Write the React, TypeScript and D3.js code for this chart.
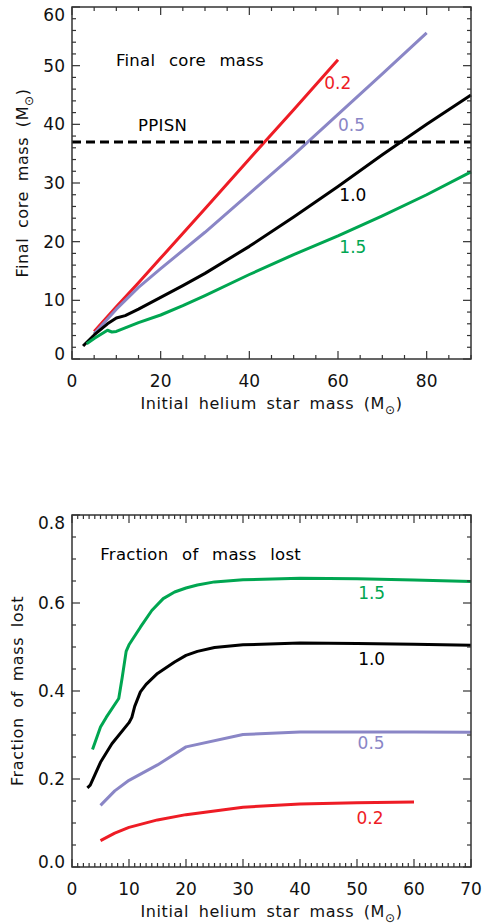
import React from "react";
import * as d3 from "d3";

const W = 487;
const H = 924;
const FONT = "DejaVu Sans, sans-serif";

// line colours for the four wind-efficiency factors
const factorNames = ["0.2", "0.5", "1.0", "1.5"];
const factorColors = ["#ee1c25", "#8a86c6", "#000000", "#00a651"];

// ---- top panel: final core mass (Msun) vs initial helium star mass
const core02 = [[5, 4.7], [10, 8.9], [15, 13.0], [20, 17.2], [30, 25.6], [40, 34.1], [50, 42.5], [60, 51.0]];
const core05 = [[5, 4.3], [10, 8.5], [15, 12.2], [20, 15.4], [30, 21.6], [40, 28.2], [50, 34.8], [60, 41.7], [70, 48.6], [80, 55.6]];
const core10 = [[2.5, 2.2], [3, 2.6], [5, 4.1], [8, 6.0], [10, 7.0], [12, 7.4], [15, 8.5], [20, 10.5], [25, 12.5], [30, 14.6], [40, 19.2], [50, 24.2], [60, 29.4], [70, 34.8], [80, 40.0], [90, 45.0]];
const core15 = [[3.3, 2.6], [5, 3.5], [8, 4.9], [9, 4.6], [10, 4.7], [12, 5.3], [15, 6.2], [20, 7.5], [25, 9.1], [30, 10.8], [40, 14.4], [50, 17.8], [60, 21.0], [70, 24.4], [80, 28.0], [90, 31.9]];
const ppisnMass = 37;
const coreXTicks = [0, 20, 40, 60, 80];
const coreYTicks = [0, 10, 20, 30, 40, 50, 60];
// label anchor points, data units
const coreLabelPos = [[56.9, 46.0], [60, 38.8], [60.3, 26.9], [60.3, 18.0]];

// ---- bottom panel: fraction of mass lost
const lost02 = [[5, 0.06], [7.5, 0.077], [10, 0.09], [15, 0.107], [20, 0.119], [30, 0.136], [40, 0.143], [50, 0.146], [60, 0.148]];
const lost05 = [[5, 0.14], [7.5, 0.173], [10, 0.197], [15, 0.232], [20, 0.273], [30, 0.301], [40, 0.307], [50, 0.307], [60, 0.307], [70, 0.306]];
const lost10 = [[2.7, 0.18], [3.2, 0.186], [5, 0.238], [7, 0.28], [10, 0.328], [10.5, 0.34], [11, 0.365], [12, 0.398], [13, 0.415], [15, 0.44], [18, 0.466], [20, 0.481], [22, 0.49], [25, 0.499], [30, 0.505], [40, 0.509], [50, 0.508], [60, 0.506], [70, 0.504]];
const lost15 = [[3.6, 0.267], [5, 0.318], [6, 0.34], [8.2, 0.383], [8.8, 0.43], [9.5, 0.49], [10, 0.505], [12, 0.545], [14, 0.583], [16, 0.61], [18, 0.625], [20, 0.634], [22, 0.641], [25, 0.648], [30, 0.653], [40, 0.656], [50, 0.655], [60, 0.652], [70, 0.649]];
const lostXTicks = [0, 10, 20, 30, 40, 50, 60, 70];
const lostYTicks = [0, 0.2, 0.4, 0.6, 0.8];
const lostLabelPos = [[49.9, 0.097], [50.1, 0.268], [50.2, 0.458], [50.2, 0.608]];

type Pt = number[];

function SunUnit({ small }: { small: number }) {
  return (
    <>
      {"(M"}
      <tspan fontSize={small} dy={5}>{"\u2299"}</tspan>
      <tspan dy={-5}>{")"}</tspan>
    </>
  );
}

function Panel(props: {
  top: number;
  bottom: number;
  xDomain: number[];
  yDomain: number[];
  xTicks: number[];
  yTicks: number[];
  xMinor: number;
  yMinor: number;
  yFormat: (v: number) => string;
  series: Pt[][];
  labelPos: Pt[];
  title: string;
  titlePos: Pt;
  yTitle: string;
  yTitleX: number;
  yUnit: boolean;
  dashedY?: number;
  dashedLabel?: Pt;
}) {
  const left = 72;
  const right = 471;
  const { top, bottom } = props;
  const x = d3.scaleLinear().domain(props.xDomain).range([left, right]);
  const y = d3.scaleLinear().domain(props.yDomain).range([bottom, top]);
  const line = d3
    .line<Pt>()
    .x((d) => x(d[0]))
    .y((d) => y(d[1]));

  const nx = Math.round((props.xDomain[1] - props.xDomain[0]) / props.xMinor);
  const ny = Math.round((props.yDomain[1] - props.yDomain[0]) / props.yMinor);
  const xMinors = d3.range(nx + 1).map((i) => props.xDomain[0] + i * props.xMinor);
  const yMinors = d3.range(ny + 1).map((i) => props.yDomain[0] + i * props.yMinor);
  const axisColor = "#333";
  const major = 8;
  const minor = 4;

  return (
    <g fontFamily={FONT}>
      {/* curves */}
      {props.series.map((s, i) => (
        <path key={i} d={line(s) || ""} fill="none" stroke={factorColors[i]} strokeWidth={3} strokeLinejoin="round" />
      ))}
      {props.dashedY !== undefined && (
        <line x1={left} x2={right} y1={y(props.dashedY)} y2={y(props.dashedY)} stroke="#000" strokeWidth={3} strokeDasharray="9,5" />
      )}
      {props.dashedLabel && (
        <text x={x(props.dashedLabel[0])} y={y(props.dashedLabel[1])} fontSize={16.5} letterSpacing={0.3} fill="#000">PPISN</text>
      )}
      {/* series labels */}
      {props.labelPos.map((p, i) => (
        <text key={i} x={x(p[0])} y={y(p[1])} fontSize={17} fill={factorColors[i]}>{factorNames[i]}</text>
      ))}
      <text x={x(props.titlePos[0])} y={y(props.titlePos[1])} fontSize={16.5} wordSpacing={8} letterSpacing={0.3} fill="#000">{props.title}</text>

      {/* frame */}
      <rect x={left} y={top} width={right - left} height={bottom - top} fill="none" stroke={axisColor} strokeWidth={1.5} />
      {xMinors.map((v, i) => {
        const isMajor = props.xTicks.some((t) => Math.abs(t - v) < 1e-6);
        const len = isMajor ? major : minor;
        return (
          <g key={"x" + i} stroke={axisColor} strokeWidth={1.2}>
            <line x1={x(v)} x2={x(v)} y1={bottom} y2={bottom - len} />
            <line x1={x(v)} x2={x(v)} y1={top} y2={top + len} />
          </g>
        );
      })}
      {yMinors.map((v, i) => {
        const isMajor = props.yTicks.some((t) => Math.abs(t - v) < 1e-6);
        const len = isMajor ? major : minor;
        return (
          <g key={"y" + i} stroke={axisColor} strokeWidth={1.2}>
            <line x1={left} x2={left + len} y1={y(v)} y2={y(v)} />
            <line x1={right} x2={right - len} y1={y(v)} y2={y(v)} />
          </g>
        );
      })}
      {/* tick labels */}
      {props.xTicks.map((t) => (
        <text key={"xl" + t} x={x(t)} y={bottom + 28} textAnchor="middle" fontSize={17} fill="#111">{t}</text>
      ))}
      {props.yTicks.map((t) => {
        const cy = Math.min(Math.max(y(t), top + 8), bottom - 5);
        return (
          <text key={"yl" + t} x={left - 7} y={cy + 6} textAnchor="end" fontSize={17} fill="#111">{props.yFormat(t)}</text>
        );
      })}
      {/* axis titles */}
      <text x={(left + right) / 2} y={bottom + 50} textAnchor="middle" fontSize={16} wordSpacing={4} letterSpacing={0.6} fill="#111">
        {"Initial helium star mass "}
        <SunUnit small={12} />
      </text>
      <text
        transform={`translate(${props.yTitleX},${(top + bottom) / 2}) rotate(-90)`}
        textAnchor="middle"
        fontSize={16}
        wordSpacing={4}
        letterSpacing={0.6}
        fill="#111"
      >
        {props.yTitle}
        {props.yUnit && <SunUnit small={12} />}
      </text>
    </g>
  );
}

export default function App() {
  return (
    <div style={{ position: "absolute", left: 0, top: 0 }}>
      <svg width={W} height={H} style={{ display: "block", background: "#fff" }}>
        <Panel
          top={7}
          bottom={359}
          xDomain={[0, 90]}
          yDomain={[0, 60]}
          xTicks={coreXTicks}
          yTicks={coreYTicks}
          xMinor={5}
          yMinor={2}
          yFormat={(v) => String(v)}
          series={[core02, core05, core10, core15]}
          labelPos={coreLabelPos}
          title="Final core mass"
          titlePos={[9.9, 49.9]}
          yTitle="Final core mass "
          yTitleX={28}
          yUnit={true}
          dashedY={ppisnMass}
          dashedLabel={[14.9, 38.8]}
        />
        <Panel
          top={515}
          bottom={867}
          xDomain={[0, 70]}
          yDomain={[0, 0.8]}
          xTicks={lostXTicks}
          yTicks={lostYTicks}
          xMinor={1}
          yMinor={0.05}
          yFormat={(v) => v.toFixed(1)}
          series={[lost02, lost05, lost10, lost15]}
          labelPos={lostLabelPos}
          title="Fraction of mass lost"
          titlePos={[4.95, 0.697]}
          yTitle="Fraction of mass lost"
          yTitleX={23}
          yUnit={false}
        />
      </svg>
    </div>
  );
}
